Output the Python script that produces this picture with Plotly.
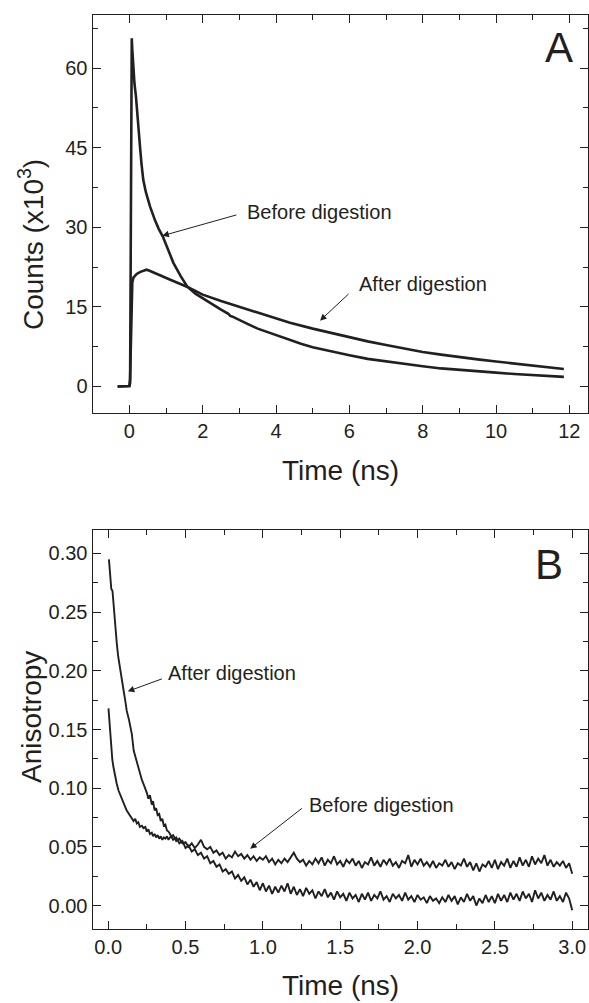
import plotly.graph_objects as go

# ---------------- Panel A data (counts x10^3 vs time, ns) ----------------
tA_before = [-0.32, -0.1, 0.0, 0.02, 0.035, 0.045, 0.055, 0.065, 0.08, 0.11, 0.14, 0.18, 0.21,
             0.245, 0.29, 0.33, 0.38, 0.45, 0.565, 0.7, 0.8, 0.91, 1.05, 1.2, 1.4, 1.58, 1.8,
             2.0, 2.25, 2.5, 2.7, 2.75, 2.8, 3.0, 3.25, 3.5, 3.75, 4.0, 4.38, 4.7, 5.0, 5.5,
             6.0, 6.5, 7.0, 7.5, 8.0, 8.5, 9.0, 9.5, 10.0, 10.5, 11.0, 11.5, 11.85]
cA_before = [0, 0, 0.1, 0.6, 20, 45, 62, 65.6, 63.5, 59.7, 57.0, 54.6, 51.5,
             48.4, 45.2, 42.0, 38.9, 36.6, 33.9, 31.3, 29.7, 28.3, 26.0, 23.3, 20.8, 18.8, 17.5,
             16.6, 15.5, 14.5, 13.7, 13.3, 13.2, 12.6, 11.7, 10.9, 10.3, 9.7, 8.7, 8.0, 7.4, 6.6,
             5.9, 5.2, 4.7, 4.2, 3.8, 3.4, 3.1, 2.8, 2.6, 2.35, 2.1, 1.95, 1.8]

tA_after = [-0.32, -0.1, 0.0, 0.02, 0.04, 0.06, 0.08, 0.11, 0.2, 0.3, 0.4, 0.47, 0.55, 0.7,
            0.85, 1.02, 1.2, 1.4, 1.57, 1.8, 2.0, 2.5, 3.0, 3.5, 4.0, 4.38, 5.0, 5.5, 6.0,
            6.5, 7.0, 7.5, 8.0, 8.5, 9.0, 9.5, 10.0, 10.5, 11.0, 11.5, 11.85]
cA_after = [0, 0, 0.1, 1.5, 10, 17.5, 19.6, 20.5, 21.2, 21.6, 21.9, 22.0, 21.8, 21.3,
            20.9, 20.4, 19.9, 19.3, 18.8, 18.0, 17.3, 16.1, 15.0, 14.0, 12.9, 12.0, 10.9, 10.1, 9.2,
            8.5, 7.8, 7.1, 6.5, 6.0, 5.5, 5.1, 4.7, 4.3, 3.9, 3.6, 3.3]

# ---------------- Panel B data (anisotropy vs time, ns) ----------------
tB_early_after = [0.005, 0.010, 0.015, 0.020, 0.028, 0.035, 0.045, 0.056, 0.065, 0.078, 0.090,
                  0.100, 0.110, 0.120, 0.135, 0.145, 0.153, 0.165, 0.175, 0.185, 0.195, 0.205,
                  0.218, 0.230, 0.240, 0.250, 0.260, 0.270, 0.282, 0.290, 0.300, 0.310, 0.320,
                  0.330, 0.340, 0.350, 0.360, 0.370, 0.380, 0.390]
rB_early_after = [0.295, 0.283, 0.276, 0.270, 0.268, 0.255, 0.240, 0.223, 0.212, 0.200, 0.190,
                  0.183, 0.175, 0.166, 0.158, 0.151, 0.146, 0.132, 0.127, 0.121, 0.117, 0.112,
                  0.107, 0.103, 0.100, 0.096, 0.091, 0.094, 0.086, 0.089, 0.081, 0.083, 0.077,
                  0.078, 0.072, 0.074, 0.068, 0.069, 0.064, 0.063]

tB_early_before = [0.002, 0.008, 0.013, 0.020, 0.027, 0.034, 0.045, 0.055, 0.067, 0.078, 0.090,
                   0.100, 0.110, 0.120, 0.130, 0.142, 0.153, 0.164, 0.175, 0.185, 0.195, 0.205,
                   0.218, 0.228, 0.240, 0.250, 0.260, 0.270, 0.282, 0.290, 0.300, 0.310, 0.320,
                   0.330, 0.340, 0.350, 0.360, 0.370, 0.380, 0.390]
rB_early_before = [0.168, 0.158, 0.146, 0.133, 0.124, 0.118, 0.110, 0.104, 0.098, 0.094, 0.090,
                   0.087, 0.084, 0.081, 0.079, 0.077, 0.075, 0.072, 0.074, 0.070, 0.071, 0.067,
                   0.068, 0.066, 0.067, 0.063, 0.065, 0.061, 0.062, 0.059, 0.061, 0.058, 0.060,
                   0.057, 0.059, 0.056, 0.058, 0.057, 0.059, 0.056]

# sampling grid of the late part, 0.40 ... 3.00 ns every 0.02 ns
tB_late = [round(0.40 + 0.02 * i, 2) for i in range(131)]

rB_late_after = [0.061, 0.056, 0.058, 0.053, 0.055, 0.049, 0.051, 0.046, 0.048, 0.043,
                 0.045, 0.040, 0.042, 0.036, 0.038, 0.033, 0.035, 0.029, 0.031, 0.027,
                 0.029, 0.023, 0.026, 0.021, 0.024, 0.018, 0.022, 0.016, 0.020, 0.013,
                 0.019, 0.012, 0.017, 0.010, 0.016, 0.011, 0.017, 0.012, 0.019, 0.010,
                 0.016, 0.009, 0.014, 0.008, 0.015, 0.010, 0.013, 0.006, 0.012, 0.008,
                 0.014, 0.007, 0.011, 0.005, 0.012, 0.007, 0.010, 0.004, 0.011, 0.006,
                 0.009, 0.003, 0.010, 0.005, 0.011, 0.004, 0.009, 0.006, 0.012, 0.005,
                 0.008, 0.003, 0.010, 0.006, 0.009, 0.004, 0.011, 0.005, 0.008, 0.003,
                 0.009, 0.005, 0.007, 0.002, 0.008, 0.004, 0.006, 0.002, 0.007, 0.003,
                 0.009, 0.004, 0.008, 0.001, 0.007, 0.003, 0.010, 0.004, 0.008, 0.000,
                 0.006, 0.002, 0.009, 0.003, 0.008, 0.002, 0.010, 0.004, 0.009, 0.003,
                 0.011, 0.005, 0.010, 0.004, 0.012, 0.006, 0.010, 0.003, 0.013, 0.006,
                 0.011, 0.004, 0.009, 0.005, 0.012, 0.004, 0.008, 0.003, 0.011, 0.006,
                 -0.004]

rB_late_before = [0.058, 0.060, 0.055, 0.057, 0.053, 0.054, 0.050, 0.053, 0.049, 0.052,
                  0.056, 0.050, 0.048, 0.050, 0.045, 0.047, 0.043, 0.045, 0.040, 0.043,
                  0.041, 0.046, 0.042, 0.044, 0.040, 0.043, 0.039, 0.042, 0.038, 0.041,
                  0.039, 0.042, 0.037, 0.040, 0.035, 0.039, 0.036, 0.040, 0.037, 0.041,
                  0.045, 0.040, 0.037, 0.039, 0.034, 0.038, 0.035, 0.040, 0.036, 0.041,
                  0.034, 0.039, 0.036, 0.042, 0.035, 0.038, 0.033, 0.039, 0.036, 0.040,
                  0.034, 0.038, 0.032, 0.037, 0.035, 0.041, 0.034, 0.038, 0.033, 0.039,
                  0.035, 0.040, 0.034, 0.037, 0.032, 0.038, 0.036, 0.043, 0.033, 0.039,
                  0.035, 0.040, 0.034, 0.037, 0.033, 0.038, 0.032, 0.036, 0.034, 0.039,
                  0.033, 0.037, 0.031, 0.036, 0.034, 0.040, 0.033, 0.037, 0.030, 0.036,
                  0.029, 0.035, 0.033, 0.038, 0.032, 0.039, 0.031, 0.037, 0.034, 0.040,
                  0.032, 0.038, 0.033, 0.041, 0.034, 0.039, 0.033, 0.042, 0.035, 0.040,
                  0.036, 0.043, 0.034, 0.039, 0.033, 0.037, 0.034, 0.038, 0.032, 0.036,
                  0.027]

# ---------------- figure ----------------
W, H = 589, 1003
INK = "#231f20"
FONT = "Liberation Sans, Arial, Helvetica, sans-serif"

def px(xp):
    return xp / W

def py(yp):
    return 1 - yp / H

fig = go.Figure()
lineA = dict(color=INK, width=2.6)
lineB = dict(color=INK, width=1.9)

fig.add_trace(go.Scatter(x=tA_before, y=cA_before, mode="lines", line=lineA, xaxis="x", yaxis="y"))
fig.add_trace(go.Scatter(x=tA_after, y=cA_after, mode="lines", line=lineA, xaxis="x", yaxis="y"))
fig.add_trace(go.Scatter(x=tB_early_after + tB_late, y=rB_early_after + rB_late_after,
                         mode="lines", line=lineB, xaxis="x2", yaxis="y2"))
fig.add_trace(go.Scatter(x=tB_early_before + tB_late, y=rB_early_before + rB_late_before,
                         mode="lines", line=lineB, xaxis="x2", yaxis="y2"))

common_axis = dict(showline=True, linecolor=INK, linewidth=1.4, mirror="allticks",
                   ticks="inside", ticklen=8, tickwidth=1.3, tickcolor=INK,
                   showgrid=False, zeroline=False,
                   tickfont=dict(family=FONT, size=20, color=INK))
minor_common = dict(ticks="inside", ticklen=5, tickwidth=1.2, tickcolor=INK, showgrid=False)

xdom = [92.7 / W, 587.7 / W]
fig.update_layout(
    width=W, height=H, margin=dict(l=0, r=0, t=0, b=0),
    paper_bgcolor="white", plot_bgcolor="white", showlegend=False,
    font=dict(family=FONT, color=INK),
    xaxis=dict(domain=xdom, anchor="y", range=[-1, 12.5], tick0=0, dtick=2,
               minor=dict(dtick=1, **minor_common), **common_axis),
    yaxis=dict(domain=[py(413), py(15)], anchor="x", range=[-5, 70], tick0=0, dtick=15,
               minor=dict(dtick=7.5, **minor_common), **common_axis),
    xaxis2=dict(domain=xdom, anchor="y2", range=[-0.1, 3.1], tick0=0, dtick=0.5,
                tickformat=".1f", minor=dict(dtick=0.25, **minor_common), **common_axis),
    yaxis2=dict(domain=[py(929), py(530)], anchor="x2", range=[-0.02, 0.32], tick0=0,
                dtick=0.05, tickformat=".2f", minor=dict(dtick=0.025, **minor_common),
                **common_axis),
)

ann = []
TITLE_FONT = dict(size=28, family=FONT, color=INK)

def title(text, xp, yp, angle=0):
    ann.append(dict(text=text, x=px(xp), y=py(yp), xref="paper", yref="paper",
                    xanchor="center", yanchor="middle", textangle=angle,
                    showarrow=False, font=TITLE_FONT))

# axis titles
title("Counts (x10<sup>3</sup>)", 31, 245, -90)
title("Time (ns)", 340, 470)
title("Anisotropy", 31, 717, -90)
title("Time (ns)", 340, 985)

# panel letters
ann.append(dict(text="A", x=11.72, y=63.8, xref="x", yref="y", showarrow=False,
                xanchor="center", yanchor="middle", font=dict(size=42, family=FONT, color=INK)))
ann.append(dict(text="B", x=2.85, y=0.291, xref="x2", yref="y2", showarrow=False,
                xanchor="center", yanchor="middle", font=dict(size=42, family=FONT, color=INK)))

# labels and arrows
def label(text, x, y, xr, yr):
    ann.append(dict(text=text, x=x, y=y, xref=xr, yref=yr, xanchor="left", yanchor="middle",
                    showarrow=False, font=dict(size=20, family=FONT, color=INK)))

def arrow(x, y, ax, ay, xr, yr):
    ann.append(dict(text="", x=x, y=y, ax=ax, ay=ay, xref=xr, yref=yr, axref=xr, ayref=yr,
                    showarrow=True, arrowhead=2, arrowsize=1.3, arrowwidth=1.0,
                    arrowcolor=INK, standoff=0, startstandoff=0))

label("Before digestion", 3.16, 32.9, "x", "y")
arrow(0.90, 28.4, 2.96, 32.4, "x", "y")
label("After digestion", 6.2, 19.35, "x", "y")
arrow(5.2, 12.4, 6.02, 17.7, "x", "y")
label("After digestion", 0.373, 0.1978, "x2", "y2")
arrow(0.127, 0.1825, 0.357, 0.1936, "x2", "y2")
label("Before digestion", 1.284, 0.0853, "x2", "y2")
arrow(0.918, 0.0484, 1.262, 0.0838, "x2", "y2")

fig.update_layout(annotations=ann)
fig.write_html("out.html")
